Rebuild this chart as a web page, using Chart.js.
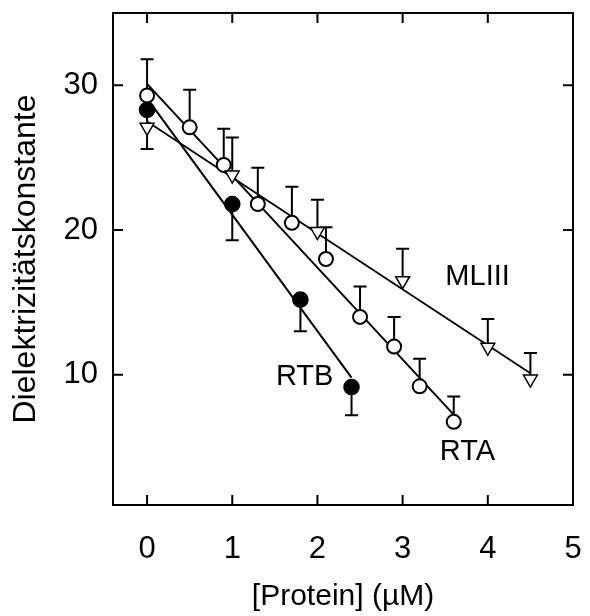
<!DOCTYPE html>
<html>
<head>
<meta charset="utf-8">
<script src="https://cdn.jsdelivr.net/npm/chart.js@4/dist/chart.umd.min.js"></script>
<style>
  html, body { margin: 0; padding: 0; background: #fff; }
  #wrap { width: 590px; height: 616px; }
</style>
</head>
<body>
<div id="wrap"><canvas id="chart" width="590" height="616"></canvas></div>
<script>
// ── Data ─────────────────────────────────────────────────
const xTicks = [0, 1, 2, 3, 4, 5];
const yTicks = [10, 20, 30];

// RTA (open circles), error bars go up
const rtaX = [0, 0.5, 0.9, 1.3, 1.7, 2.1, 2.5, 2.9, 3.2, 3.6];
const rtaY = [29.3, 27.1, 24.5, 21.8, 20.5, 18.0, 14.0, 11.95, 9.2, 6.75];
const rtaErr = [31.8, 29.7, 27.0, 24.3, 23.0, 20.2, 16.1, 14.0, 11.1, 8.5];

// RTB (filled circles), error bars go down
const rtbX = [0, 1, 1.8, 2.4];
const rtbY = [28.3, 21.8, 15.2, 9.15];
const rtbErr = [25.6, 19.3, 13.0, 7.2];

// MLIII (open triangles), error bars go up
const mlX = [0, 1, 2, 3, 4, 4.5];
const mlY = [27.1, 23.8, 19.9, 16.5, 11.9, 9.7];
const mlErr = [null, 26.4, 22.1, 18.7, 13.85, 11.5];

// fitted lines (end points)
const rtaFitX = [0, 3.6];
const rtaFitY = [30.1, 7.25];
const rtbFitX = [0, 2.4];
const rtbFitY = [29.1, 9.8];
const mlFitX = [0, 4.5];
const mlFitY = [27.5, 10.1];

// series labels placed in data units
const labelText = ["RTB", "RTA", "MLIII"];
const labelX = [1.85, 3.76, 3.88];
const labelY = [9.86, 4.69, 16.75];

const FONT = '"Liberation Sans", Arial, Helvetica, sans-serif';

function toPoints(xs, ys) {
  return xs.map((x, i) => ({ x, y: ys[i] }));
}

const errorSets = [
  { xs: rtaX, ys: rtaY, ends: rtaErr },
  { xs: rtbX, ys: rtbY, ends: rtbErr },
  { xs: mlX, ys: mlY, ends: mlErr }
];

// half error bars, drawn under the markers
const errorBars = {
  id: "errorBars",
  beforeDatasetsDraw(chart) {
    const { ctx, scales: { x, y } } = chart;
    ctx.save();
    ctx.strokeStyle = "#000";
    ctx.lineWidth = 2;
    errorSets.forEach(set => {
      set.xs.forEach((v, i) => {
        const end = set.ends[i];
        if (end == null) return;
        const px = x.getPixelForValue(v);
        const py0 = y.getPixelForValue(set.ys[i]);
        const py1 = y.getPixelForValue(end);
        ctx.beginPath();
        ctx.moveTo(px, py0);
        ctx.lineTo(px, py1);
        ctx.moveTo(px - 6.5, py1);
        ctx.lineTo(px + 6.5, py1);
        ctx.stroke();
      });
    });
    ctx.restore();
  }
};

// frame with inward ticks on all four sides
const frame = {
  id: "frame",
  afterDraw(chart) {
    const { ctx, chartArea: a, scales: { x, y } } = chart;
    const tl = 10;
    ctx.save();
    ctx.strokeStyle = "#000";
    ctx.lineWidth = 2;
    ctx.strokeRect(a.left, a.top, a.right - a.left, a.bottom - a.top);
    ctx.beginPath();
    xTicks.forEach(v => {
      const px = x.getPixelForValue(v);
      ctx.moveTo(px, a.bottom);
      ctx.lineTo(px, a.bottom - tl);
      ctx.moveTo(px, a.top);
      ctx.lineTo(px, a.top + tl);
    });
    yTicks.forEach(v => {
      const py = y.getPixelForValue(v);
      ctx.moveTo(a.left, py);
      ctx.lineTo(a.left + tl, py);
      ctx.moveTo(a.right, py);
      ctx.lineTo(a.right - tl, py);
    });
    ctx.stroke();
    ctx.restore();
  }
};

const seriesLabels = {
  id: "seriesLabels",
  afterDatasetsDraw(chart) {
    const { ctx, scales: { x, y } } = chart;
    ctx.save();
    ctx.fillStyle = "#000";
    ctx.font = "29px " + FONT;
    ctx.textAlign = "center";
    ctx.textBaseline = "middle";
    labelText.forEach((t, i) => {
      ctx.fillText(t, x.getPixelForValue(labelX[i]), y.getPixelForValue(labelY[i]));
    });
    ctx.restore();
  }
};

const fitStyle = { showLine: true, borderColor: "#000", borderWidth: 2, pointRadius: 0, fill: false, order: 2 };

new Chart(document.getElementById("chart"), {
  type: "scatter",
  data: {
    datasets: [
      { label: "RTA fit", data: toPoints(rtaFitX, rtaFitY), ...fitStyle },
      { label: "RTB fit", data: toPoints(rtbFitX, rtbFitY), ...fitStyle },
      { label: "MLIII fit", data: toPoints(mlFitX, mlFitY), ...fitStyle, borderWidth: 1.8 },
      {
        label: "MLIII", data: toPoints(mlX, mlY), order: 1,
        pointStyle: "triangle", rotation: 180, pointRadius: 8,
        backgroundColor: "#fff", borderColor: "#000", borderWidth: 1.5
      },
      {
        label: "RTA", data: toPoints(rtaX, rtaY), order: 1,
        pointStyle: "circle", pointRadius: 7,
        backgroundColor: "#fff", borderColor: "#000", borderWidth: 2
      },
      {
        label: "RTB", data: toPoints(rtbX, rtbY), order: 0,
        pointStyle: "circle", pointRadius: 7.3,
        backgroundColor: "#000", borderColor: "#000", borderWidth: 2
      }
    ]
  },
  options: {
    responsive: false,
    animation: false,
    events: [],
    layout: { padding: { top: 13, right: 17, left: 0, bottom: 0 } },
    plugins: { legend: { display: false }, tooltip: { enabled: false } },
    scales: {
      x: {
        type: "linear",
        min: -0.4,
        max: 5,
        afterBuildTicks: s => { s.ticks = xTicks.map(v => ({ value: v })); },
        afterFit: s => { s.height = 111; s.paddingLeft = 0; s.paddingRight = 0; },
        grid: { display: false, drawTicks: false },
        border: { display: false },
        ticks: { color: "#000", font: { family: FONT, size: 31 }, padding: 26, maxRotation: 0 },
        title: {
          display: true, text: "[Protein] (µM)", color: "#000",
          font: { family: FONT, size: 30 }, padding: { top: 0, bottom: 1 }
        }
      },
      y: {
        type: "linear",
        min: 1,
        max: 35,
        afterBuildTicks: s => { s.ticks = yTicks.map(v => ({ value: v })); },
        afterFit: s => { s.width = 113; s.paddingTop = 0; s.paddingBottom = 0; },
        grid: { display: false, drawTicks: false },
        border: { display: false },
        ticks: { color: "#000", font: { family: FONT, size: 31 }, padding: 15 },
        title: {
          display: true, text: "Dielektrizitätskonstante", color: "#000",
          font: { family: FONT, size: 32 }, padding: { top: 7, bottom: 0 }
        }
      }
    }
  },
  plugins: [errorBars, frame, seriesLabels]
});
</script>
</body>
</html>
